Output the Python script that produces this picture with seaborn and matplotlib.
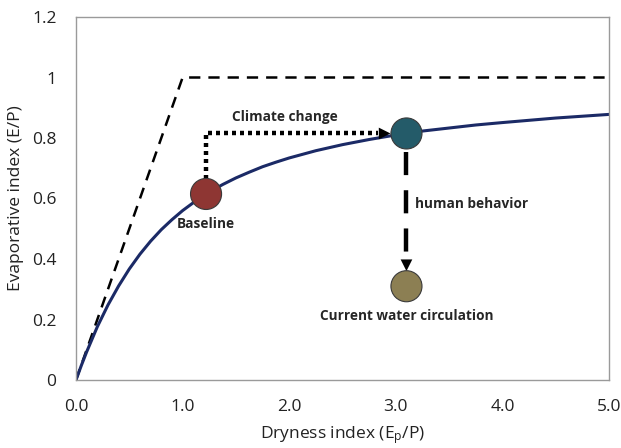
import matplotlib
matplotlib.use("Agg")
import matplotlib.pyplot as plt
import seaborn as sns
import pandas as pd

# ---- data ----
curve_x = [0.0, 0.05, 0.1, 0.2, 0.3, 0.4, 0.5, 0.6, 0.7, 0.8, 0.9, 1.0, 1.1, 1.25, 1.375,
           1.5, 1.625, 1.75, 1.875, 2.0, 2.25, 2.5, 2.75, 3.0, 3.25, 3.5, 3.75, 4.0, 4.5, 5.0]
curve_y = [0.0, 0.048, 0.093, 0.176, 0.248, 0.311, 0.367, 0.416, 0.459, 0.497, 0.530,
           0.560, 0.586, 0.621, 0.646, 0.668, 0.687, 0.705, 0.720, 0.734, 0.758, 0.778,
           0.795, 0.810, 0.823, 0.833, 0.843, 0.851, 0.866, 0.878]
limit_x = [0.0, 1.0, 5.0]
limit_y = [0.0, 1.0, 1.0]
point_names = ["Baseline", "Climate change", "Current water circulation"]
point_x = [1.22, 3.10, 3.10]
point_y = [0.615, 0.815, 0.31]
point_colors = ["#8E3633", "#245B69", "#8C7F53"]
x_ticks = [0.0, 1.0, 2.0, 3.0, 4.0, 5.0]
x_tick_labels = ["0.0", "1.0", "2.0", "3.0", "4.0", "5.0"]
y_ticks = [0.0, 0.2, 0.4, 0.6, 0.8, 1.0, 1.2]
y_tick_labels = ["0", "0.2", "0.4", "0.6", "0.8", "1", "1.2"]

sns.set_theme(style="white")
plt.rcParams["font.family"] = ["Open Sans", "DejaVu Sans"]
plt.rcParams["mathtext.fontset"] = "custom"
plt.rcParams["mathtext.rm"] = "Open Sans"
plt.rcParams["mathtext.it"] = "Open Sans"

fig = plt.figure(figsize=(6.21, 4.48), dpi=100)
ax = fig.add_axes([76 / 621, 1 - 380 / 448, (609 - 76) / 621, (380 - 17) / 448])

curve = pd.DataFrame({"x": curve_x, "y": curve_y})
limit = pd.DataFrame({"x": limit_x, "y": limit_y})
pts = pd.DataFrame({"x": point_x, "y": point_y, "name": point_names})

sns.lineplot(data=limit, x="x", y="y", ax=ax, color="black", lw=1.8,
             linestyle=(0, (4.5, 3.2)), estimator=None, sort=False)
sns.lineplot(data=curve, x="x", y="y", ax=ax, color="#1B2A66", lw=2.2,
             estimator=None, sort=False)

# arrows
bx, by = point_x[0], point_y[0]
cx, cy = point_x[1], point_y[1]
wx, wy = point_x[2], point_y[2]
ax.plot([bx, bx, cx - 0.27], [by + 0.05, cy, cy], color="black", lw=3.2,
        linestyle=(0, (0.9, 0.9)), solid_capstyle="butt", dash_capstyle="butt", zorder=3)
ax.annotate("", xy=(cx - 0.15, cy), xytext=(cx - 0.28, cy),
            arrowprops=dict(arrowstyle="-|>,head_length=0.7,head_width=0.35",
                            color="black", lw=0, shrinkA=0, shrinkB=0), zorder=3)
ax.plot([cx, cx], [cy - 0.06, wy + 0.095], color="black", lw=3.2,
        linestyle=(0, (5.2, 3.4)), dash_capstyle="butt", zorder=3)
ax.annotate("", xy=(cx, wy + 0.05), xytext=(cx, wy + 0.1),
            arrowprops=dict(arrowstyle="-|>,head_length=0.7,head_width=0.35",
                            color="black", lw=0, shrinkA=0, shrinkB=0), zorder=3)

sns.scatterplot(data=pts, x="x", y="y", ax=ax, hue="name", palette=point_colors,
                s=500, edgecolor="#3a3a3a", linewidth=0.8, legend=False, zorder=4)

fs = 9.8
ax.text(1.96, 0.868, "Climate change", ha="center", va="center", fontsize=fs, fontweight="bold")
ax.text(bx, 0.515, "Baseline", ha="center", va="center", fontsize=fs, fontweight="bold")
ax.text(3.18, 0.582, "human behavior", ha="left", va="center", fontsize=fs, fontweight="bold")
ax.text(wx, 0.212, "Current water circulation", ha="center", va="center", fontsize=fs,
        fontweight="bold")

ax.set_xlim(0, 5)
ax.set_ylim(0, 1.2)
ax.set_xticks(x_ticks)
ax.set_xticklabels(x_tick_labels)
ax.set_yticks(y_ticks)
ax.set_yticklabels(y_tick_labels)
ax.tick_params(axis="both", length=0, labelsize=12.5, colors="#222222")
ax.tick_params(axis="y", pad=14)
ax.tick_params(axis="x", pad=14)
ax.set_xlabel(r"Dryness index (E$_\mathrm{p}$/P)", fontsize=12.5, color="#222222", labelpad=6)
ax.set_ylabel("Evaporative index (E/P)", fontsize=12.5, color="#222222", labelpad=6)
for s in ax.spines.values():
    s.set_visible(True)
    s.set_color("#9a9a9a")
    s.set_linewidth(1.0)

fig.savefig("out.png", dpi=100)
